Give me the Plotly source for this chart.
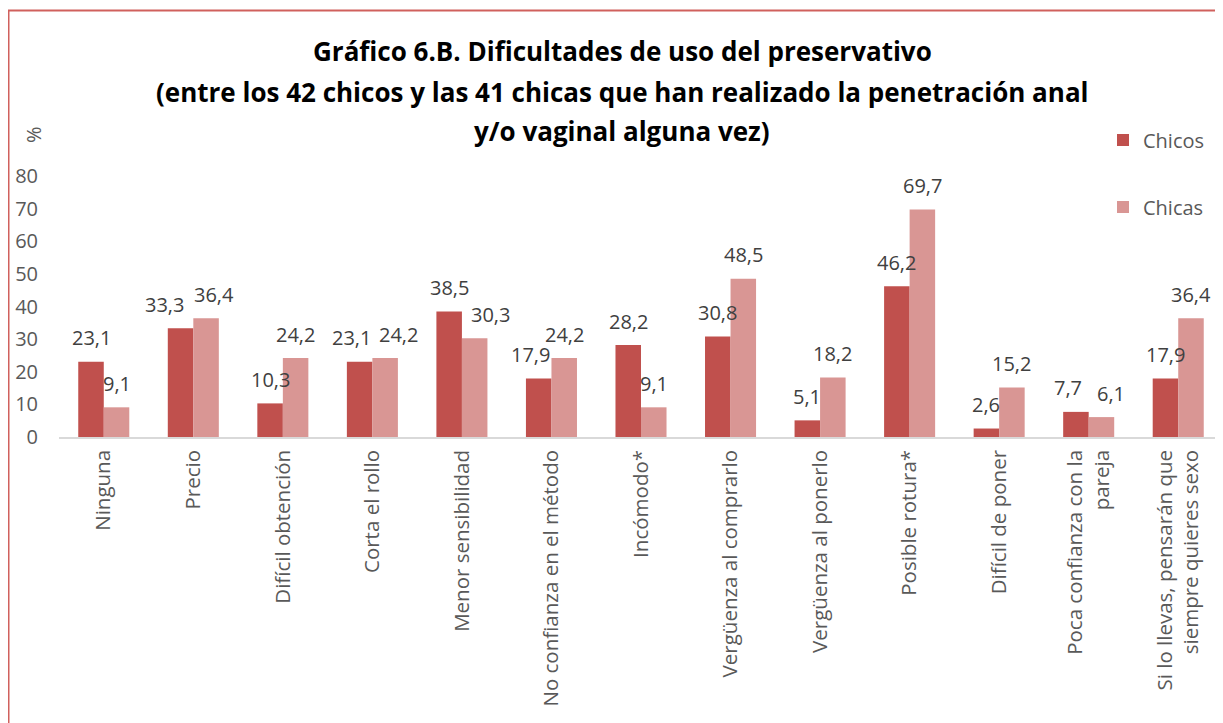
import plotly.graph_objects as go

categories = [
	"Ninguna",
	"Precio",
	"Difícil obtención",
	"Corta el rollo",
	"Menor sensibilidad",
	"No confianza en el método",
	"Incómodo*",
	"Vergüenza al comprarlo",
	"Vergüenza al ponerlo",
	"Posible rotura*",
	"Difícil de poner",
	"Poca confianza con la<br>pareja",
	"Si lo llevas, pensarán que<br>siempre quieres sexo",
]
chicos = [23.1, 33.3, 10.3, 23.1, 38.5, 17.9, 28.2, 30.8, 5.1, 46.2, 2.6, 7.7, 17.9]
chicas = [9.1, 36.4, 24.2, 24.2, 30.3, 24.2, 9.1, 48.5, 18.2, 69.7, 15.2, 6.1, 36.4]
y_ticks = [0, 10, 20, 30, 40, 50, 60, 70, 80]

title_lines = [
	"Gráfico 6.B. Dificultades de uso del preservativo",
	"(entre los 42 chicos y las 41 chicas que han realizado la penetración anal",
	"y/o vaginal alguna vez)",
]

# hand-moved labels in the original (pixels, by category index)
nudge_chicos = {1: -16, 3: -8, 5: -8, 11: -8}
nudge_chicas = {1: 8, 3: 13, 4: 16, 11: 10}

# the page adds an 8px body margin, so the figure is a bit smaller than the window
OFF = 8
W, H = 1223 - OFF, 723 - OFF
ML, MR, MT, MB = 51, 0, 168, 286
PW = W - ML - MR
PH = H - MT - MB
BARGAP = 0.43

C_CHICOS = "#C0504D"
C_CHICAS = "#D99694"
TXT = "#595959"
LBL = "#404040"
FONT = "Open Sans"


def px_x(px):
	# page pixel (as in the reference) -> paper coordinate
	return (px - OFF - ML) / PW


def px_y(py):
	return (H - MB - (py - OFF)) / PH


fig = go.Figure()
fig.add_trace(go.Bar(x=categories, y=chicos, name="Chicos", marker=dict(color=C_CHICOS, line=dict(width=0)), legend="legend", showlegend=True))
fig.add_trace(go.Bar(x=categories, y=chicas, name="Chicas", marker=dict(color=C_CHICAS, line=dict(width=0)), legend="legend2", showlegend=True))

# value labels above the bars
bar_w = PW / len(categories) * (1 - BARGAP) / 2
for i, cat in enumerate(categories):
	for vals, side, nudge in ((chicos, -1, nudge_chicos), (chicas, 1, nudge_chicas)):
		fig.add_annotation(
			x=cat, y=vals[i], xref="x", yref="y",
			text=f"{vals[i]:.1f}".replace(".", ","),
			showarrow=False, yanchor="middle",
			xshift=side * bar_w / 2 + nudge.get(i, 0), yshift=24,
			font=dict(family=FONT, size=20, color=LBL),
		)

# title, one annotation per line
for line, py in zip(title_lines, [51, 92, 131]):
	fig.add_annotation(
		x=px_x(622), y=px_y(py), xref="paper", yref="paper",
		text=f"<b>{line}</b>", showarrow=False, xanchor="center", yanchor="middle",
		font=dict(family=FONT, size=26, color="black"),
	)

fig.add_annotation(
	x=px_x(33), y=px_y(135), xref="paper", yref="paper", text="%", textangle=-90,
	showarrow=False, xanchor="center", yanchor="middle",
	font=dict(family=FONT, size=20, color=TXT),
)

# chart border
fig.add_shape(
	type="rect", xref="paper", yref="paper",
	x0=px_x(8.5), x1=px_x(1260), y0=px_y(760), y1=px_y(10.5),
	line=dict(color="#D0605D", width=2), fillcolor="rgba(0,0,0,0)", layer="above",
)

legend_style = dict(xanchor="left", yanchor="middle", font=dict(family=FONT, size=20, color=TXT), bgcolor="rgba(0,0,0,0)")
fig.update_layout(
	width=W, height=H,
	margin=dict(l=ML, r=MR, t=MT, b=MB, autoexpand=False),
	plot_bgcolor="white", paper_bgcolor="white",
	barmode="group", bargap=BARGAP, bargroupgap=0,
	font=dict(family=FONT, size=20, color=TXT),
	showlegend=True,
	legend=dict(x=px_x(1103), y=px_y(140), **legend_style),
	legend2=dict(x=px_x(1103), y=px_y(207), **legend_style),
	xaxis=dict(
		showline=True, linecolor="#D9D9D9", linewidth=1.5, showgrid=False,
		ticks="", tickangle=-90, ticklabelstandoff=3,
		tickfont=dict(family=FONT, size=20.5, color=TXT),
	),
	yaxis=dict(
		range=[0, 80], tickvals=y_ticks, showgrid=False, zeroline=False, showline=False,
		ticks="", ticklabelstandoff=20, tickfont=dict(family=FONT, size=20, color=TXT),
	),
)

fig.write_html("out.html")
